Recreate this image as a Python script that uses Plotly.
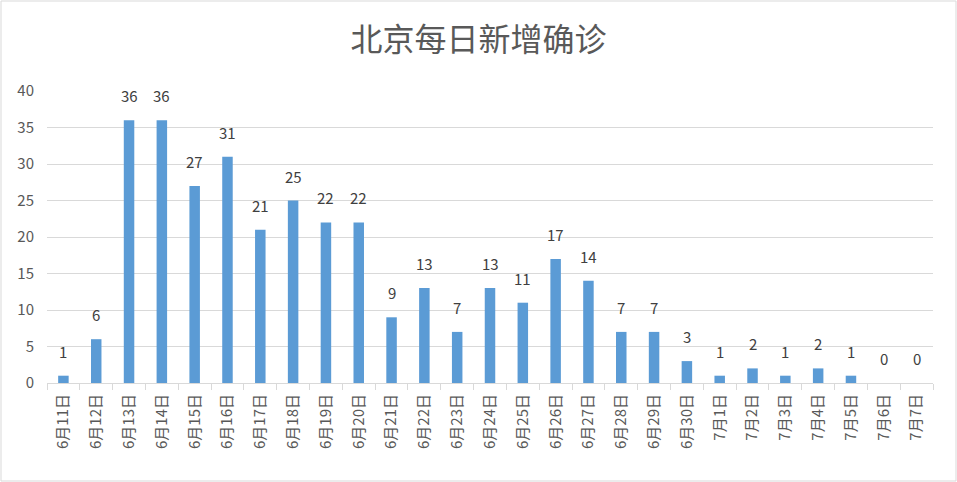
import plotly.graph_objects as go

categories = ["6月11日", "6月12日", "6月13日", "6月14日", "6月15日", "6月16日", "6月17日",
              "6月18日", "6月19日", "6月20日", "6月21日", "6月22日", "6月23日", "6月24日",
              "6月25日", "6月26日", "6月27日", "6月28日", "6月29日", "6月30日", "7月1日",
              "7月2日", "7月3日", "7月4日", "7月5日", "7月6日", "7月7日"]
values = [1, 6, 36, 36, 27, 31, 21, 25, 22, 22, 9, 13, 7, 13, 11, 17, 14, 7, 7, 3, 1, 2, 1, 2, 1, 0, 0]
title_text = "北京每日新增确诊"

W, H = 957, 482
L, R, T, B = 47, 24, 91, 99
pw, ph = W - L - R, H - T - B

fig = go.Figure(go.Bar(
    x=categories, y=values, width=0.32,
    marker=dict(color="#5B9BD5", line=dict(width=0)),
))

annotations = [dict(x=c, y=v, xref="x", yref="y", text=str(v), showarrow=False,
                    yanchor="bottom", yshift=12,
                    font=dict(size=15, color="#404040", family="Noto Sans CJK SC"))
               for c, v in zip(categories, values)]

fig.update_layout(
    width=W, height=H, margin=dict(l=L, r=R, t=T, b=B, autoexpand=False),
    paper_bgcolor="white", plot_bgcolor="white",
    font=dict(family="Noto Sans CJK SC", color="#595959"),
    title=dict(text=title_text, x=0.5, xanchor="center", y=1 - 40 / H, yanchor="middle",
               font=dict(size=32, color="#595959", family="Noto Sans CJK SC")),
    showlegend=False, bargap=0.68,
    annotations=annotations,
    xaxis=dict(type="category", tickangle=-90, tickson="boundaries", ticks="outside",
               ticklen=6, tickcolor="#D9D9D9", showline=True, linecolor="#D9D9D9",
               linewidth=1, showgrid=False, tickfont=dict(size=15, color="#595959"),
               ticklabelstandoff=4, automargin=False, fixedrange=True),
    yaxis=dict(range=[0, 40], dtick=5, showgrid=True, gridcolor="#D9D9D9", gridwidth=1,
               zeroline=False, showline=False, ticks="", tickfont=dict(size=15, color="#595959"),
               ticklabelstandoff=12, automargin=False, fixedrange=True),
    shapes=[dict(type="rect", xref="paper", yref="paper",
                 x0=(-L + 1) / pw, x1=(pw + R - 1) / pw,
                 y0=(-B + 1) / ph, y1=(ph + T - 1) / ph,
                 line=dict(color="#D9D9D9", width=1), fillcolor="rgba(0,0,0,0)", layer="below")],
)

fig.write_html("out.html", config={"displayModeBar": False},
               post_script="document.body.style.margin='0';document.body.style.overflow='hidden';")
